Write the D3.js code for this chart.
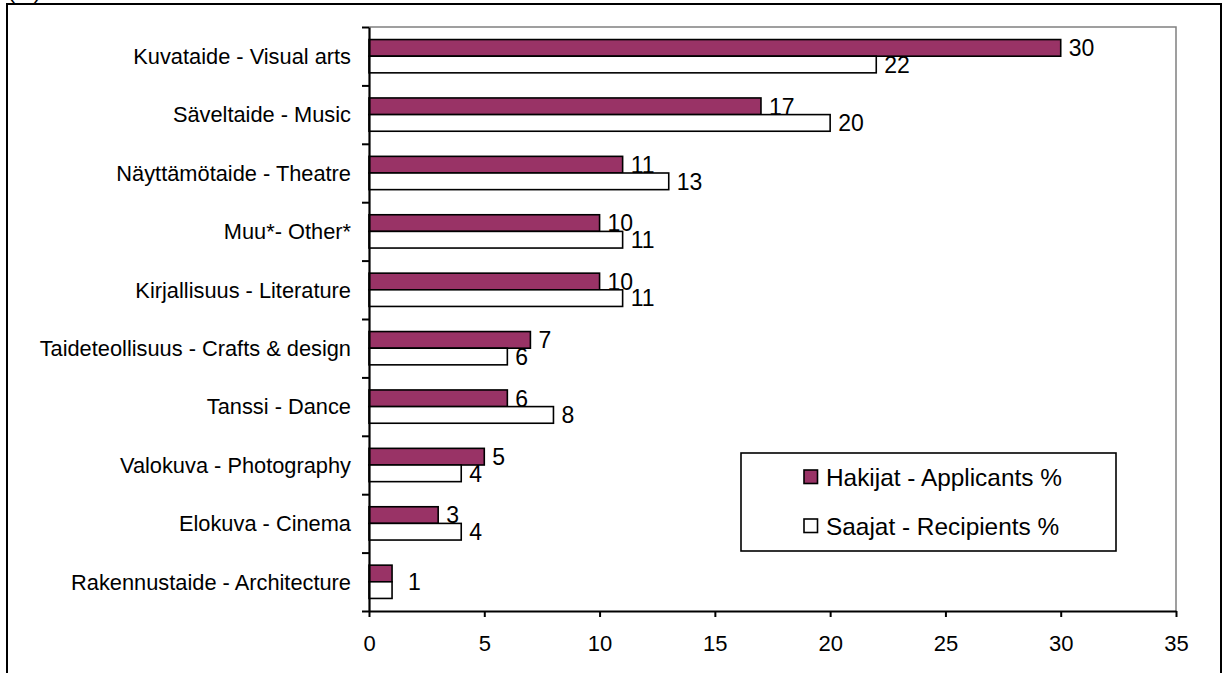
<!DOCTYPE html>
<html><head><meta charset="utf-8">
<script src="https://cdn.jsdelivr.net/npm/d3@7"></script>
<style>
html,body{margin:0;padding:0;background:#fff;}
svg{display:block;font-family:"Liberation Sans",Arial,sans-serif;}
</style></head>
<body>
<svg id="c" width="1225" height="673"></svg>
<script>
const categories = [
  "Kuvataide - Visual arts",
  "Säveltaide - Music",
  "Näyttämötaide - Theatre",
  "Muu*- Other*",
  "Kirjallisuus - Literature",
  "Taideteollisuus - Crafts & design",
  "Tanssi - Dance",
  "Valokuva - Photography",
  "Elokuva - Cinema",
  "Rakennustaide - Architecture"
];
const applicants = [30, 17, 11, 10, 10, 7, 6, 5, 3, 1];
const recipients = [22, 20, 13, 11, 11, 6, 8, 4, 4, 1];
const seriesNames = ["Hakijat - Applicants %", "Saajat - Recipients %"];
const xTicks = [0, 5, 10, 15, 20, 25, 30, 35];

const svg = d3.select("#c");
const L = 369, R = 1176, T = 27, B = 611;
const colors = ["#993366", "#ffffff"];

// outer frame
svg.append("path").attr("d", `M7,680 V4 H1221 V680`).attr("fill","none").attr("stroke","#000").attr("stroke-width",2);
svg.append("text").attr("x", 8).attr("y", -1.5).attr("font-size", 21).text("(%)");

const x = d3.scaleLinear().domain([0, 35]).range([L, R]);
const y = d3.scaleBand().domain(categories).range([T, B]).paddingInner(0.43).paddingOuter(0.215);
const ySub = d3.scaleBand().domain([0, 1]).range([0, y.bandwidth()]);

// plot border (grey top/right)
svg.append("path").attr("d", `M${L},${T} H${R} V${B}`).attr("fill","none").attr("stroke","#808080").attr("stroke-width",1.5);

const rows = categories.map((c, i) => ({c, vals: [applicants[i], recipients[i]]}));

const g = svg.append("g");
rows.forEach(r => {
  r.vals.forEach((v, s) => {
    g.append("rect")
      .attr("x", x(0)).attr("y", y(r.c) + ySub(s))
      .attr("width", x(v) - x(0)).attr("height", ySub.bandwidth())
      .attr("fill", colors[s]).attr("stroke", "#000").attr("stroke-width", 1.6);
  });
  const same = r.vals[0] === r.vals[1] && r.vals[0] <= 1;
  if (same) {
    g.append("text").attr("x", x(r.vals[0]) + 16).attr("y", y(r.c) + y.bandwidth()/2)
      .attr("dy", "0.36em").attr("font-size", 23).text(r.vals[0]);
  } else {
    r.vals.forEach((v, s) => {
      g.append("text").attr("x", x(v) + 8).attr("y", y(r.c) + ySub(s) + ySub.bandwidth()/2)
        .attr("dy", "0.36em").attr("font-size", 23).text(v);
    });
  }
});

// category labels
svg.append("g").selectAll("text").data(categories).join("text")
  .attr("x", 351).attr("y", d => y(d) + y.bandwidth()/2)
  .attr("dy", "0.36em").attr("text-anchor", "end").attr("font-size", 21.8).text(d => d);

// left axis with ticks at band boundaries
const yb = d3.scaleLinear().domain([0, categories.length]).range([T, B]);
const ya = svg.append("g").attr("transform", `translate(${L},0)`)
  .call(d3.axisLeft(yb).tickValues(d3.range(categories.length + 1)).tickFormat("").tickSize(7).tickSizeOuter(0));
ya.select(".domain").attr("stroke-width", 2.2);
ya.selectAll(".tick line").attr("stroke-width", 2);

// bottom axis
const xa = svg.append("g").attr("transform", `translate(0,${B})`)
  .call(d3.axisBottom(x).tickValues(xTicks).tickSize(6).tickSizeOuter(0).tickPadding(18));
xa.select(".domain").attr("stroke-width", 2.2);
xa.selectAll(".tick line").attr("stroke-width", 2);
xa.selectAll("text").attr("font-size", 22).attr("font-family", "Liberation Sans, Arial, sans-serif").attr("fill","#000");

// legend
const lg = svg.append("g");
lg.append("rect").attr("x", 741).attr("y", 453).attr("width", 375).attr("height", 98)
  .attr("fill", "#fff").attr("stroke", "#000").attr("stroke-width", 1.6);
seriesNames.forEach((n, i) => {
  const cy = 477 + i * 49;
  lg.append("rect").attr("x", 804).attr("y", cy - 7).attr("width", 13.5).attr("height", 13.5)
    .attr("fill", colors[i]).attr("stroke", "#000").attr("stroke-width", 1.6);
  lg.append("text").attr("x", 826).attr("y", cy).attr("dy", "0.36em").attr("font-size", 24.4).text(n);
});
</script>
</body></html>
